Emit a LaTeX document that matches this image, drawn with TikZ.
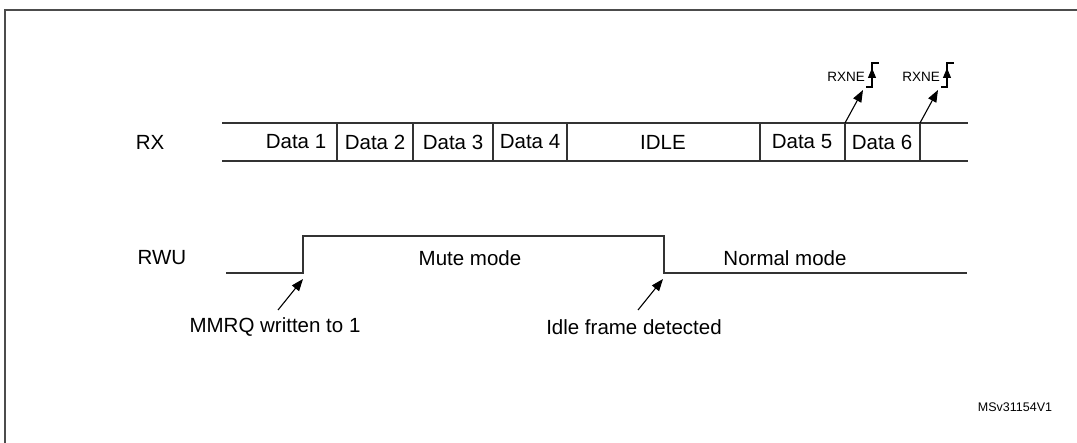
\documentclass[tikz,border=0pt]{standalone}
\usepackage{fontspec}
\setmainfont{Liberation Sans}
\usetikzlibrary{arrows.meta}
\begin{document}
\begin{tikzpicture}[x=1pt,y=-1pt,
  sig/.style={line width=1.2pt,black!80},
  lbl/.style={font=\fontsize{20.5}{23}\selectfont,inner sep=0pt},
  sm/.style={font=\fontsize{13.5}{15}\selectfont,inner sep=0pt},
  arr/.style={line width=1.1pt,-{Triangle[length=12pt,width=9pt]}}]
\useasboundingbox (0,0) rectangle (1077,443);
\draw[line width=2pt,black!70] (5,450) -- (5,10) -- (1085,10);
% RX bus
\node[lbl] (rx) at (150,142) {RX};
\coordinate (rxa) at (222,123); \coordinate (rxb) at (968,123);
\coordinate (rxc) at (222,161); \coordinate (rxd) at (968,161);
\draw[sig] (rxa) -- (rxb); \draw[sig] (rxc) -- (rxd);
\foreach \x in {337,413,493,567,760,845,920}
  \draw[sig] (\x,123) -- (\x,161);
\node[lbl] (d1) at (296,142) {Data 1};
\node[lbl] (d2) at (375,142) {Data 2};
\node[lbl] (d3) at (453,142) {Data 3};
\node[lbl] (d4) at (530,142) {Data 4};
\node[lbl] (idle) at (663,142) {IDLE};
\node[lbl] (d5) at (802,142) {Data 5};
\node[lbl] (d6) at (882,142) {Data 6};
% RXNE
\foreach \a/\n in {845/a,920/b}{
  \coordinate (rs\n) at (\a,123);
  \coordinate (re\n) at (\a+18,90);
  \draw[arr] (rs\n) -- (re\n);
  \node[sm,anchor=east] (rxne\n) at (\a+20,77) {RXNE};
  \draw[line width=1.1pt] (\a+21,87) -- (\a+27,87) -- (\a+27,63) -- (\a+34,63);
  \draw[line width=1pt,-{Triangle[length=10pt,width=8pt]}] (\a+27,84) -- (\a+27,68);
}
% RWU
\node[lbl] (rwu) at (162,258) {RWU};
\draw[sig] (226,273) -- (303,273) -- (303,236) -- (664,236) -- (664,273) -- (967,273);
\node[lbl] (mute) at (470,258) {Mute mode};
\node[lbl] (norm) at (785,258) {Normal mode};
\coordinate (m0) at (278,310); \coordinate (m1) at (303,279);
\coordinate (i0) at (638,310); \coordinate (i1) at (663,279);
\draw[arr] (m0) -- (m1); \draw[arr] (i0) -- (i1);
\node[lbl] (mmrq) at (275,327) {MMRQ written to 1};
\node[lbl] (ifd) at (634,327) {Idle frame detected};
\node[font=\fontsize{12.5}{14}\selectfont,inner sep=0pt] (id) at (1015,407) {MSv31154V1};
\end{tikzpicture}
\end{document}
